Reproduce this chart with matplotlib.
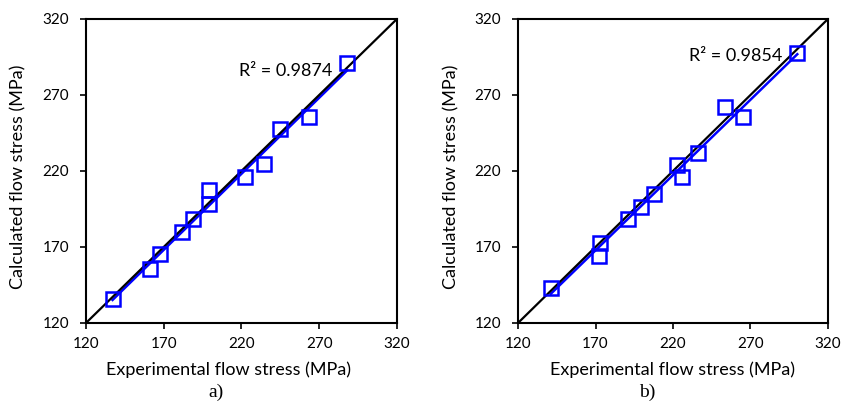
import numpy as np
import matplotlib.pyplot as plt

plt.rcParams['font.family'] = ['Lato', 'DejaVu Sans']

# panel a)
exp_a = [137.1, 161.5, 167.5, 182.0, 189.1, 198.9, 199.4, 222.2, 234.2, 244.7, 263.3, 288.1]
calc_a = [135.6, 155.8, 165.1, 180.0, 188.6, 198.2, 207.5, 215.8, 224.8, 247.7, 255.4, 291.0]
r2_a = '0.9874'

# panel b)
exp_b = [141.1, 172.3, 172.9, 191.2, 199.4, 208.0, 222.4, 225.6, 236.3, 253.3, 265.2, 300.2]
calc_b = [143.3, 164.0, 172.3, 188.4, 196.0, 205.1, 224.0, 216.3, 231.9, 262.4, 255.2, 297.4]
r2_b = '0.9854'

ticks = [120, 170, 220, 270, 320]

fig = plt.figure(figsize=(8.52, 4.09), dpi=100)
ax_a = fig.add_axes([0.1009, 0.2103, 0.365, 0.7433])
ax_b = fig.add_axes([0.608, 0.2103, 0.3638, 0.7433])


def draw(ax, x, y, r2, r2_pos, tag, tag_x, xlab_x):
    x = np.array(x)
    y = np.array(y)
    # линия идеального совпадения
    ax.plot([120, 320], [120, 320], color='black', lw=1.6, zorder=2)
    # линейный тренд по точкам
    k, b = np.polyfit(x, y, 1)
    xs = np.array([x.min(), x.max()])
    ax.plot(xs, k * xs + b, color='#0000ff', lw=1.8, zorder=1)
    ax.plot(x, y, 's', ms=10, mfc='none', mec='#0000ff', mew=1.8, zorder=3)
    ax.set_xlim(120, 320)
    ax.set_ylim(120, 320)
    ax.set_xticks(ticks)
    ax.set_yticks(ticks)
    ax.tick_params(direction='out', length=4, width=1.2, labelsize=11)
    ax.tick_params(axis='x', pad=6)
    ax.tick_params(axis='y', pad=8)
    for s in ax.spines.values():
        s.set_linewidth(1.5)
    ax.set_xlabel('Experimental flow stress (MPa)', fontsize=13)
    ax.set_ylabel('Calculated flow stress (MPa)', fontsize=13)
    ax.xaxis.set_label_coords(xlab_x, -0.128)
    ax.yaxis.set_label_coords(-0.19, 0.48)
    ax.text(r2_pos[0], r2_pos[1], 'R² = ' + r2, fontsize=13, va='center')
    fig.text(tag_x, 0.04, tag, family='Liberation Serif', fontsize=14, ha='center', va='center')


draw(ax_a, exp_a, calc_a, r2_a, (218.6, 286), 'a)', 216 / 852, 0.458)
draw(ax_b, exp_b, calc_b, r2_b, (230.3, 295.8), 'b)', 647 / 852, 0.5)

fig.savefig('out.png', dpi=100)
